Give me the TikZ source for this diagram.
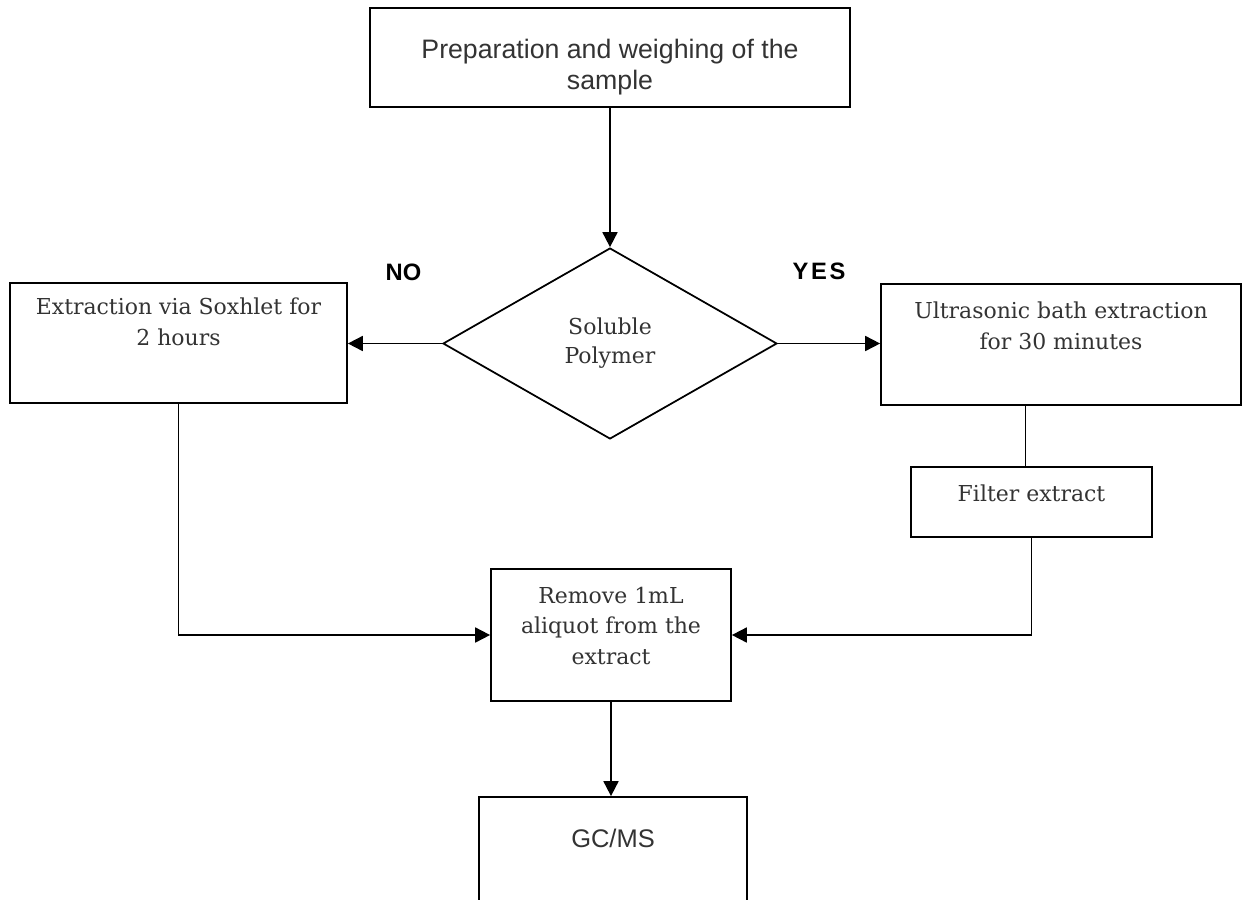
\documentclass[tikz,border=0pt]{standalone}
\usepackage{fontspec}
\setmainfont{DejaVu Serif}
\setsansfont{Liberation Sans}
\usetikzlibrary{arrows.meta,shapes.geometric,positioning}

\begin{document}
\begin{tikzpicture}[
  x=0.02cm, y=-0.02cm,
  >={Triangle[length=8.5pt,width=8.5pt]},
  line width=1pt,
  every node/.style={text=black!80},
  box/.style={draw=black, rectangle, align=center, inner sep=0pt, font=\fontsize{12.5}{17.5}\selectfont},
  sbox/.style={box, font=\sffamily\fontsize{15.2}{17.6}\selectfont},
  decision/.style={draw=black, diamond, aspect=1.75, inner sep=0pt, minimum width=6.68cm, minimum height=3.82cm, align=center, font=\fontsize{12.5}{16.5}\selectfont},
  answer/.style={font=\sffamily\bfseries\fontsize{13.5}{16}\selectfont, text=black}
]
\useasboundingbox (0,0) rectangle (1242,900);

\node[sbox, minimum width=9.6cm, minimum height=1.98cm, text height=1.39cm] (prep) at (610,57.5) {Preparation and weighing of the\\sample};
\node[decision] (sol) at (610,343.5) {Soluble\\Polymer};
\node[box, minimum width=6.74cm, minimum height=2.4cm, text depth=0.85cm] (soxh) at (178.5,343) {Extraction via Soxhlet for\\2 hours};
\node[box, minimum width=7.2cm, minimum height=2.42cm, text depth=0.74cm] (ultra) at (1061,344.5) {Ultrasonic bath extraction\\for 30 minutes};
\node[box, minimum width=4.82cm, minimum height=1.4cm, text depth=0.37cm] (filt) at (1031.5,502) {Filter extract};
\node[box, minimum width=4.8cm, minimum height=2.64cm, text depth=0.37cm] (remove) at (611,635) {Remove 1mL\\aliquot from the\\extract};
\node[sbox, minimum width=5.36cm, minimum height=2.2cm, text depth=0.53cm, font=\sffamily\fontsize{14.5}{17}\selectfont] (gcms) at (613,852) {GC/MS};

\node[answer] (no) at (403.5,272) {NO};
\node[answer] (yes) at (819,271) {Y\kern1.5pt E\kern1.5pt S};

\draw[->] (prep) -- (sol);
\draw[->] (sol.west) -- (soxh.east |- sol.west);
\draw[->] (sol.east) -- (ultra.west |- sol.east);
\draw ([xshift=-0.12cm]filt.north) -- ([xshift=-0.12cm]filt.north |- ultra.south);
\draw[->] (filt.south) |- (remove.east);
\draw[->] (soxh.south) |- (remove.west);
\draw[->] (remove.south) -- (remove.south |- gcms.north);
\end{tikzpicture}
\end{document}
